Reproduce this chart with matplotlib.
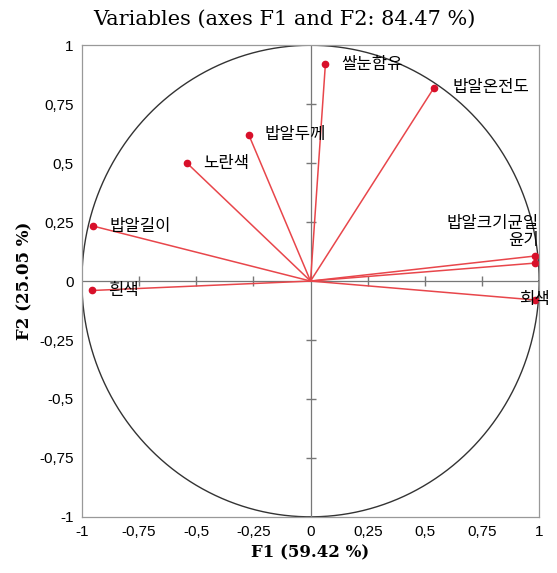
import numpy as np
import matplotlib.pyplot as plt

plt.rcParams['font.family'] = ['Noto Sans CJK KR', 'DejaVu Sans']

# variable loadings on F1 / F2
names = ['쌀눈함유', '밥알온전도', '밥알두께', '노란색', '밥알길이', '흰색',
         '밥알크기균일', '윤기', '회색']
f1 = [0.065, 0.54, -0.27, -0.54, -0.95, -0.955, 0.98, 0.98, 0.98]
f2 = [0.92, 0.82, 0.62, 0.50, 0.233, -0.04, 0.106, 0.076, -0.08]

ticks = [-1, -0.75, -0.5, -0.25, 0, 0.25, 0.5, 0.75, 1]
tick_labels = ['-1', '-0,75', '-0,5', '-0,25', '0', '0,25', '0,5', '0,75', '1']

fig = plt.figure(figsize=(5.57, 5.73), dpi=100)
ax = fig.add_axes([0.147, 0.098, 0.821, 0.823])

t = np.linspace(0, 2 * np.pi, 400)
ax.plot(np.cos(t), np.sin(t), color='#333333', lw=1)
ax.axhline(0, color='#777777', lw=0.9)
ax.axvline(0, color='#777777', lw=0.9)
minor = [v for v in ticks if v not in (-1, 0, 1)]
ax.plot(minor, [0] * len(minor), ls='none', marker='|', ms=7, color='#777777')
ax.plot([0] * len(minor), minor, ls='none', marker='_', ms=7, color='#777777')

for x, y in zip(f1, f2):
    ax.plot([0, x], [0, y], color='#e8464b', lw=1.1)
ax.plot(f1, f2, 'o', color='#d8102a', ms=4.5)

offs = {'쌀눈함유': (0.07, 0.0, 'left'), '밥알온전도': (0.08, 0.0, 'left'),
        '밥알두께': (0.07, 0.0, 'left'), '노란색': (0.07, 0.0, 'left'),
        '밥알길이': (0.07, 0.0, 'left'), '흰색': (0.07, 0.0, 'left'),
        '밥알크기균일': (0.0, 0.14, 'right'), '윤기': (0.0, 0.095, 'right'),
        '회색': (-0.07, 0.0, 'left')}
for n, x, y in zip(names, f1, f2):
    dx, dy, ha = offs[n]
    if ha == 'right':
        ax.text(1.0, y + dy, n, fontsize=12, ha='right', va='center')
    else:
        ax.text(x + dx, y + dy, n, fontsize=12, ha='left', va='center')

ax.set_xlim(-1, 1)
ax.set_ylim(-1, 1)
ax.set_xticks(ticks)
ax.set_xticklabels(tick_labels, family='Liberation Sans', fontsize=11)
ax.set_yticks(ticks)
ax.set_yticklabels(tick_labels, family='Liberation Sans', fontsize=11)
ax.tick_params(length=0, pad=6)
for s in ax.spines.values():
    s.set_color('#999999')
    s.set_linewidth(0.9)

ax.set_xlabel('F1 (59.42 %)', family='DejaVu Serif', fontweight='bold', fontsize=12)
ax.set_ylabel('F2 (25.05 %)', family='DejaVu Serif', fontweight='bold', fontsize=12)
fig.suptitle('Variables (axes F1 and F2: 84.47 %)', family='DejaVu Serif',
             fontsize=15, x=0.51, y=0.983, va='top')

fig.savefig('out.png', dpi=100)
